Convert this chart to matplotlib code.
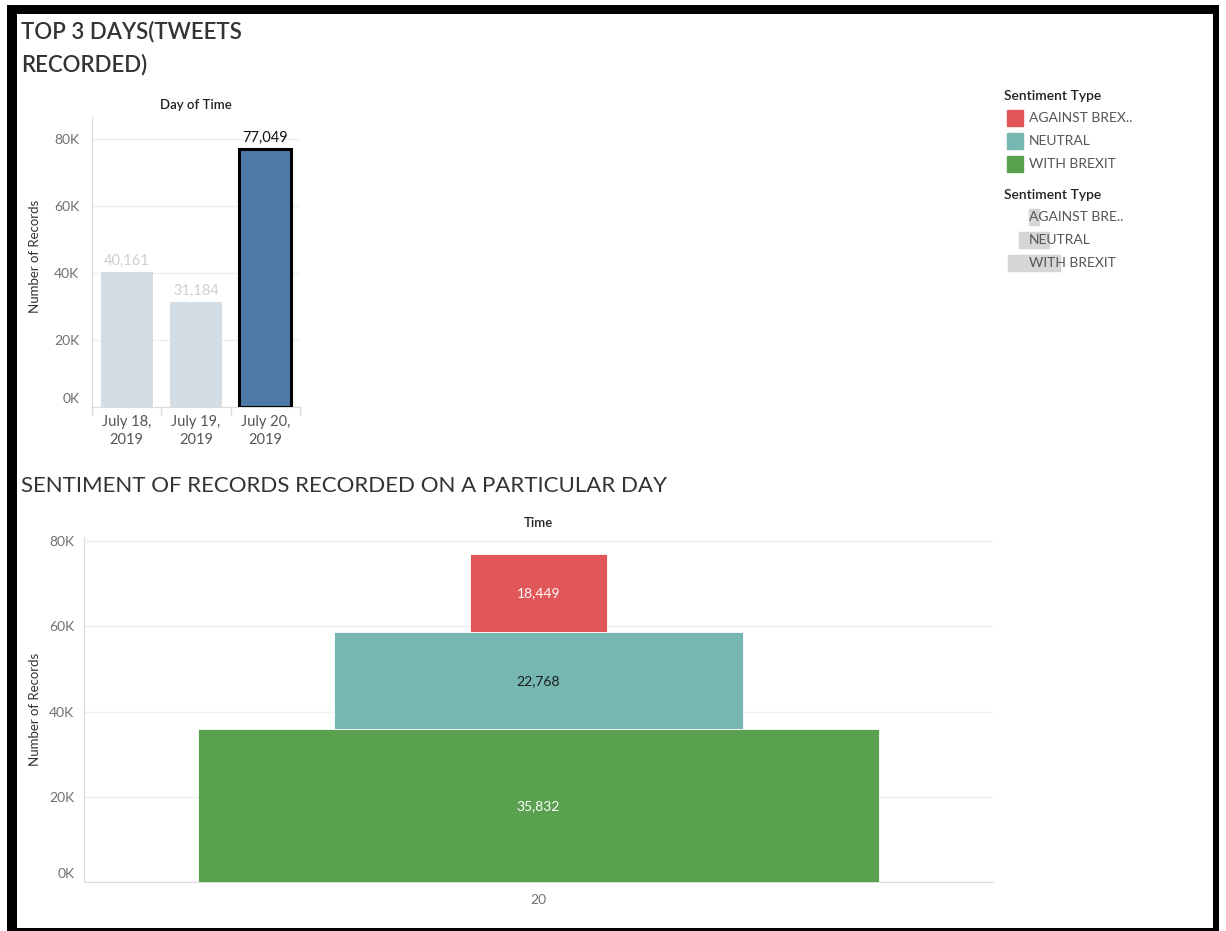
import matplotlib
matplotlib.use("Agg")
import matplotlib.pyplot as plt
import matplotlib.transforms as mtransforms
from matplotlib.patches import Rectangle
from matplotlib.ticker import FuncFormatter, FixedLocator

plt.rcParams['font.family'] = ['Lato', 'DejaVu Sans']

# ---------------- data ----------------
days = ["July 18,\n2019", "July 19,\n2019", "July 20,\n2019"]
day_counts = [40161, 31184, 77049]
highlight_day = 2

sentiments = ["WITH BREXIT", "NEUTRAL", "AGAINST BREXIT"]
sentiment_legend = ["AGAINST BREX..", "NEUTRAL", "WITH BREXIT"]
size_legend = ["AGAINST BRE..", "NEUTRAL", "WITH BREXIT"]
sentiment_counts = [35832, 22768, 18449]
sentiment_size = [5, 3, 1]          # size encoding (relative)
time_label = ["20"]

y_ticks = [0, 20000, 40000, 60000, 80000]

# ---------------- styles ----------------
W, H = 1226, 931
sent_colors = {"WITH BREXIT": "#59A14F", "NEUTRAL": "#76B7B2", "AGAINST BREXIT": "#E15759"}
sent_label_colors = {"WITH BREXIT": "white", "NEUTRAL": "#1a1a1a", "AGAINST BREXIT": "white"}
legend_colors = ["#E15759", "#76B7B2", "#59A14F"]
tick_color = "#707070"
grid_color = "#efefef"
axis_color = "#dcdcdc"


def ax_rect(l, t, r, b):
    return [l / W, 1 - b / H, (r - l) / W, (b - t) / H]


kfmt = FuncFormatter(lambda v, p: f"{int(v/1000)}K")

fig = plt.figure(figsize=(W / 100, H / 100), dpi=100)
fig.patch.set_facecolor("white")


def lift_zero_label(ax):
    fig.canvas.draw()
    lab = ax.get_yticklabels()[0]
    lab.set_transform(lab.get_transform() +
                      mtransforms.ScaledTranslation(0, 9 / 100, fig.dpi_scale_trans))


# ---------------- top chart ----------------
ax1 = fig.add_axes(ax_rect(92, 117, 300, 407))
xs = list(range(len(days)))
bar_colors = ["#4E79A7" if i == highlight_day else "#D4DCE4" for i in xs]
edge_colors = ["black" if i == highlight_day else "none" for i in xs]
lws = [2.2 if i == highlight_day else 0 for i in xs]
ax1.bar(xs, day_counts, width=0.75, color=bar_colors, edgecolor=edge_colors,
        linewidth=lws, zorder=3)
for i, (x, v) in enumerate(zip(xs, day_counts)):
    ax1.annotate(f"{v:,}", (x, v), xytext=(0, 3), textcoords="offset points",
                 ha="center", va="bottom", fontsize=10.5,
                 color="#111111" if i == highlight_day else "#cfcfcf")
ax1.set_xlim(-0.5, 2.5)
ax1.set_ylim(0, 86500)
ax1.yaxis.set_major_locator(FixedLocator(y_ticks))
ax1.yaxis.set_major_formatter(kfmt)
ax1.set_xticks(xs)
ax1.set_xticklabels(days, fontsize=10.5, color="#555555", linespacing=1.35)
ax1.set_xticks([-0.5, 0.5, 1.5, 2.5], minor=True)
ax1.tick_params(axis="x", which="major", length=0, pad=6)
ax1.tick_params(axis="x", which="minor", length=6, color=axis_color, width=1)
ax1.tick_params(axis="y", length=0, labelsize=10, labelcolor=tick_color, pad=9)
ax1.grid(axis="y", color=grid_color, linewidth=1, zorder=0)
for s in ["top", "right"]:
    ax1.spines[s].set_visible(False)
ax1.spines["left"].set_color(axis_color)
ax1.spines["bottom"].set_color(axis_color)
ax1.set_ylabel("Number of Records", fontsize=9.5, color="#333333")
ax1.yaxis.set_label_coords(-0.245, 0.52)
ax1.set_title("Day of Time", fontsize=9.5, color="#222222", fontweight="semibold", pad=6)

# ---------------- bottom chart ----------------
ax2 = fig.add_axes(ax_rect(84, 537, 993, 882))
bottom = 0
for name, v, s in zip(sentiments, sentiment_counts, sentiment_size):
    ax2.bar([0], [v], bottom=bottom, width=0.15 * s, color=sent_colors[name],
            edgecolor="white", linewidth=0.6, zorder=3)
    ax2.text(0, bottom + v / 2, f"{v:,}", ha="center", va="center", fontsize=10,
             color=sent_label_colors[name], zorder=4)
    bottom += v
ax2.set_xlim(-0.5, 0.5)
ax2.set_ylim(0, 81000)
ax2.yaxis.set_major_locator(FixedLocator(y_ticks))
ax2.yaxis.set_major_formatter(kfmt)
ax2.set_xticks([0])
ax2.set_xticklabels(time_label, fontsize=10, color=tick_color)
ax2.tick_params(axis="x", length=0, pad=9)
ax2.tick_params(axis="y", length=0, labelsize=10, labelcolor=tick_color, pad=7)
ax2.grid(axis="y", color=grid_color, linewidth=1, zorder=0)
for s in ["top", "right"]:
    ax2.spines[s].set_visible(False)
ax2.spines["left"].set_color(axis_color)
ax2.spines["bottom"].set_color(axis_color)
ax2.set_ylabel("Number of Records", fontsize=9.5, color="#333333")
ax2.yaxis.set_label_coords(-0.047, 0.5)
ax2.set_title("Time", fontsize=9.5, color="#222222", fontweight="semibold", pad=7)

lift_zero_label(ax1)
lift_zero_label(ax2)

# ---------------- overlay: titles, legends, frame ----------------
ov = fig.add_axes([0, 0, 1, 1], zorder=10)
ov.set_xlim(0, W)
ov.set_ylim(H, 0)
ov.axis("off")
ov.patch.set_alpha(0)

ov.text(21, 32, "TOP 3 DAYS(TWEETS", fontsize=16, color="#333333", fontweight="semibold",
        va="center", ha="left")
ov.text(21, 65, "RECORDED)", fontsize=16, color="#333333", fontweight="semibold",
        va="center", ha="left")
ov.text(21, 486, "SENTIMENT OF RECORDS RECORDED ON A PARTICULAR DAY", fontsize=16,
        color="#333333", fontweight="normal", va="center", ha="left")

# colour legend
ov.text(1004, 96, "Sentiment Type", fontsize=10, color="#222222", fontweight="semibold",
        va="center", ha="left")
for i, (lab, col) in enumerate(zip(sentiment_legend, legend_colors)):
    yc = 118 + i * 23
    ov.add_patch(Rectangle((1007, yc - 8), 16, 16, color=col))
    ov.text(1029, yc, lab, fontsize=10, color="#555555", va="center", ha="left")

# size legend
ov.text(1004, 195, "Sentiment Type", fontsize=10, color="#222222", fontweight="semibold",
        va="center", ha="left")
for i, (lab, s) in enumerate(zip(size_legend, sorted(sentiment_size))):
    yc = 217 + i * 23
    w = 10.3 * s
    ov.add_patch(Rectangle((1034 - w / 2, yc - 8), w, 16, color="#d6d6d6", zorder=1))
    ov.text(1029, yc, lab, fontsize=10, color="#555555", va="center", ha="left", zorder=2)

# outer frame
frame = [(7, 5, 10, 926), (7, 5, 1212, 9), (1213, 5, 6, 926), (7, 928, 1212, 3)]
for (x, y, w, h) in frame:
    ov.add_patch(Rectangle((x, y), w, h, color="black", lw=0))

fig.savefig("out.png", dpi=100, facecolor="white")
